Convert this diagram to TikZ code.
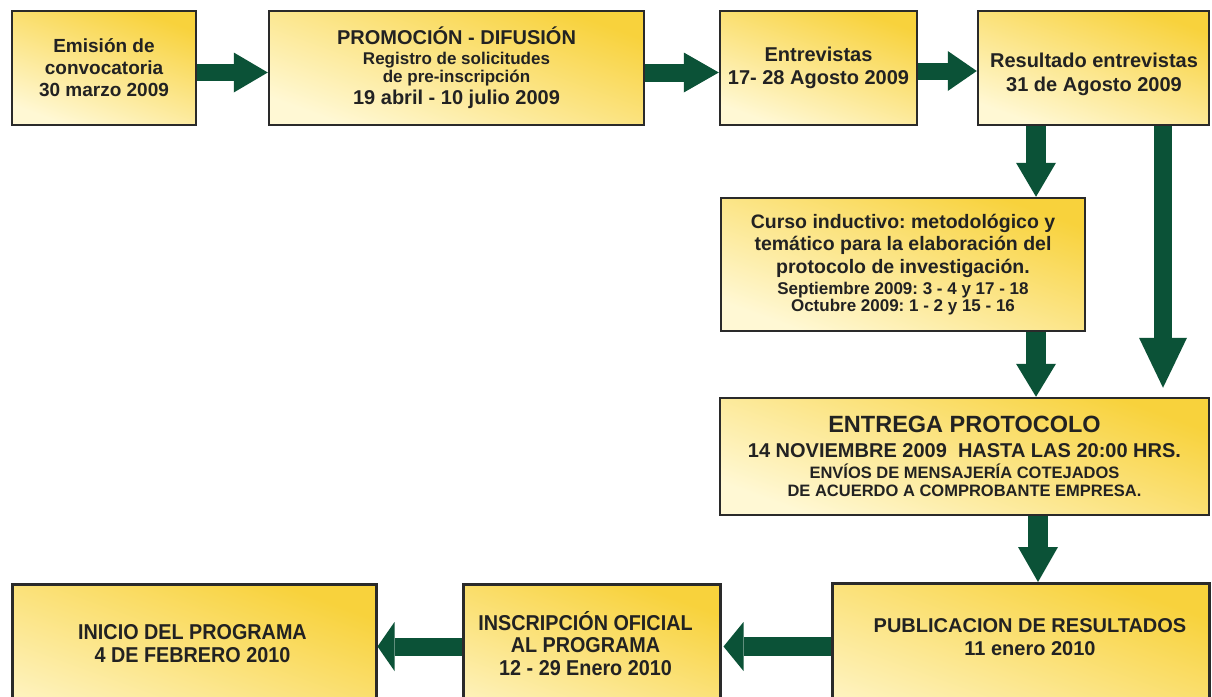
\documentclass[tikz,border=0pt]{standalone}
\usepackage{fontspec}
\setmainfont{Liberation Sans}
\newfontfamily\narrowsans[FakeStretch=0.92]{Liberation Sans}
\usetikzlibrary{arrows.meta}
\definecolor{boxtop}{HTML}{F8D23C}
\definecolor{boxbot}{HTML}{FFF8D4}
\definecolor{arrowgreen}{HTML}{0B5237}
\definecolor{txtgray}{HTML}{222222}
\definecolor{bordergray}{HTML}{2A2A2A}
\newcommand{\setfs}[2]{\fontsize{#1}{#2}\selectfont}
\frenchspacing
\begin{document}
\begin{tikzpicture}[x=1pt,y=-1pt,
  box/.style={draw=bordergray, line width=2.5pt, top color=boxtop, bottom color=boxbot,
    shading angle=-20, text=txtgray, align=center, inner sep=0pt},
  txt/.style={text=txtgray, align=center, inner sep=0pt},
  arr/.style={draw=arrowgreen}
]
\useasboundingbox (0,0) rectangle (1212,696);
\clip (0,0) rectangle (1212,696);
\fill[white] (0,0) rectangle (1212,696);

% top row
\node[box, font=\bfseries\setfs{19}{22}, minimum width=184pt, minimum height=114pt] (b1) at (104,68)
  {Emisión de\\convocatoria\\30 marzo 2009};
\node[box, font=\bfseries\setfs{20}{20}, minimum width=375pt, minimum height=114pt] (b2) at (456.5,68)
  {PROMOCIÓN - DIFUSIÓN\\{\setfs{17}{19}Registro de solicitudes}\\[-2pt]{\setfs{17}{19}de pre-inscripción}\\[2pt]19 abril - 10 julio 2009};
\node[box, font=\bfseries\setfs{20}{23}, minimum width=197pt, minimum height=114pt] (b3) at (818.5,68)
  {Entrevistas\\17- 28 Agosto 2009};
\node[box, minimum width=231pt, minimum height=114pt] (b4) at (1093.5,68) {};
\node[txt, font=\bfseries\setfs{20}{24}] (t4) at (1094,74)
  {Resultado entrevistas\\31 de Agosto 2009};

% middle
\node[box, font=\bfseries\setfs{19.5}{22.5}, minimum width=364pt, minimum height=133pt] (b5) at (903,264.5)
  {Curso inductivo: metodológico y\\temático para la elaboración del\\protocolo de investigación.\\[-1pt]{\setfs{17}{19}Septiembre 2009: 3 - 4 y 17 - 18}\\[-6pt]{\setfs{17}{19}Octubre 2009: 1 - 2 y 15 - 16}};
\node[box, font=\bfseries\setfs{20}{22}, minimum width=489pt, minimum height=117pt] (b6) at (964.5,456.5)
  {{\setfs{23.5}{24}ENTREGA PROTOCOLO}\\[3pt]14 NOVIEMBRE 2009\ \ HASTA LAS 20:00 HRS.\\[-1pt]{\setfs{16.5}{20}ENVÍOS DE MENSAJERÍA COTEJADOS}\\[-4.5pt]{\setfs{16.5}{20}DE ACUERDO A COMPROBANTE EMPRESA.}};

% bottom row (boxes run past the lower edge)
\node[box, minimum width=377pt, minimum height=180pt, anchor=north west] (b7) at (831,582) {};
\node[txt, font=\bfseries\setfs{20}{23}] (t7) at (1030,637)
  {PUBLICACION DE RESULTADOS\\11 enero 2010};
\node[box, minimum width=257pt, minimum height=180pt, anchor=north west] (b8) at (462,583) {};
\node[txt, font=\narrowsans\bfseries\setfs{21.5}{22.5}] (t8) at (585.5,643.5)
  {INSCRIPCIÓN OFICIAL\\AL PROGRAMA\\12 - 29 Enero 2010};
\node[box, minimum width=364pt, minimum height=180pt, anchor=north west] (b9) at (11,583) {};
\node[txt, font=\narrowsans\bfseries\setfs{21.5}{23}] (t9) at (192.5,643.5)
  {INICIO DEL PROGRAMA\\4 DE FEBRERO 2010};

% helper coordinates
\coordinate (r1) at (0,72.5);
\coordinate (r1b) at (0,71);
\coordinate (r2) at (0,646.5);
\coordinate (cA) at (1036,0);
\coordinate (cB) at (1163,0);
\coordinate (cC) at (1038,0);

% connectors
\draw[arr, line width=17pt, -{Triangle[length=34pt,width=40pt,line width=0pt]}]
  (b1.east |- r1) -- (b2.west |- r1);
\draw[arr, line width=18pt, -{Triangle[length=35pt,width=40pt,line width=0pt]}]
  (b2.east |- r1) -- (b3.west |- r1);
\draw[arr, line width=17pt, -{Triangle[length=29pt,width=40pt,line width=0pt]}]
  (b3.east |- r1b) -- (b4.west |- r1b);
\draw[arr, line width=20pt, -{Triangle[length=34pt,width=40pt,line width=0pt]}]
  (b4.south -| cA) -- (b5.north -| cA);
\draw[arr, line width=20pt, -{Triangle[length=33pt,width=40pt,line width=0pt]}]
  (b5.south -| cA) -- (b6.north -| cA);
\draw[arr, line width=18pt, shorten >=9pt, -{Triangle[length=50pt,width=48pt,line width=0pt]}]
  (b4.south -| cB) -- (b6.north -| cB);
\draw[arr, line width=20pt, -{Triangle[length=35pt,width=40pt,line width=0pt]}]
  (b6.south -| cC) -- (b7.north -| cC);
\draw[arr, line width=19pt, shorten >=2pt, -{Triangle[length=20pt,width=49pt,line width=0pt]}]
  (b7.west |- r2) -- (b8.east |- r2);
\draw[arr, line width=18pt, -{Triangle[length=17pt,width=49pt,line width=0pt]}]
  (b8.west |- r2) -- (b9.east |- r2);
\end{tikzpicture}
\end{document}
